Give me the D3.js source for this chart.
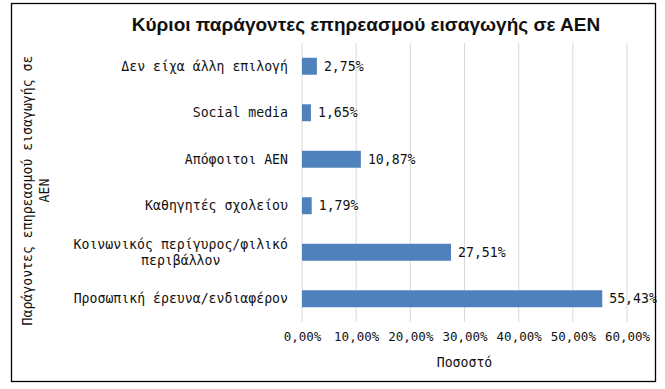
<!DOCTYPE html>
<html>
<head>
<meta charset="utf-8">
<script src="https://cdn.jsdelivr.net/npm/d3@7"></script>
<style>
  body { margin: 0; background: #fff; }
  text { font-family: "DejaVu Sans Mono", monospace; fill: #111; }
</style>
</head>
<body>
<svg id="chart" width="665" height="389"></svg>
<script>
// chart data
var categories = [
  "Δεν είχα άλλη επιλογή",
  "Social media",
  "Απόφοιτοι ΑΕΝ",
  "Καθηγητές σχολείου",
  "Κοινωνικός περίγυρος/φιλικό\nπεριβάλλον",
  "Προσωπική έρευνα/ενδιαφέρον"
];
var values = [2.75, 1.65, 10.87, 1.79, 27.51, 55.43];
var xTicks = [0, 10, 20, 30, 40, 50, 60];

var title = "Κύριοι παράγοντες επηρεασμού εισαγωγής σε ΑΕΝ";
var xTitle = "Ποσοστό";
var yTitle = ["Παράγοντες επηρεασμού εισαγωγής σε", "ΑΕΝ"];

var svg = d3.select("#chart");
var margin = { top: 43, left: 302, right: 38, bottom: 67 };
var width = 665 - margin.left - margin.right;
var height = 389 - margin.top - margin.bottom;
var fs = 13.2;

function pct(v) {
  return v.toFixed(2).replace(".", ",") + "%";
}

// outer frame
svg.append("rect")
  .attr("x", 11.5).attr("y", 3.5)
  .attr("width", 644).attr("height", 378)
  .attr("fill", "none")
  .attr("stroke", "#000")
  .attr("stroke-width", 1.3);

var g = svg.append("g")
  .attr("transform", "translate(" + margin.left + "," + margin.top + ")");

var x = d3.scaleLinear().domain([0, 60]).range([0, width]);
var y = d3.scaleBand().domain(categories).range([0, height]).paddingInner(0.635).paddingOuter(0.3175);

// gridlines
g.selectAll(".grid")
  .data(xTicks)
  .enter().append("line")
    .attr("class", "grid")
    .attr("x1", function(d) { return x(d); })
    .attr("x2", function(d) { return x(d); })
    .attr("y1", 0)
    .attr("y2", height)
    .attr("stroke", "#d9d9d9")
    .attr("stroke-width", 1);

// x axis tick labels
var xAxis = d3.axisBottom(x).tickValues(xTicks).tickSize(0).tickPadding(10).tickFormat(pct);
var xg = g.append("g")
  .attr("transform", "translate(0," + height + ")")
  .call(xAxis);
xg.select(".domain").remove();
xg.selectAll("text")
  .style("font-family", "DejaVu Sans Mono, monospace")
  .style("font-size", "12.5px")
  .attr("fill", "#111");

// bars
g.selectAll(".bar")
  .data(values)
  .enter().append("rect")
    .attr("class", "bar")
    .attr("x", x(0))
    .attr("y", function(d, i) { return y(categories[i]); })
    .attr("width", function(d) { return x(d) - x(0); })
    .attr("height", y.bandwidth())
    .attr("fill", "#4f81bd");

// data labels
g.selectAll(".lbl")
  .data(values)
  .enter().append("text")
    .attr("class", "lbl")
    .attr("x", function(d) { return x(d) + 7; })
    .attr("y", function(d, i) { return y(categories[i]) + y.bandwidth() / 2; })
    .attr("dy", "0.35em")
    .style("font-size", fs + "px")
    .text(pct);

// category labels (multi-line ones stacked and centred on each other)
g.selectAll(".cat")
  .data(categories)
  .enter().append("text")
    .attr("class", "cat")
    .attr("y", function(d) { return y(d) + y.bandwidth() / 2; })
    .style("font-size", fs + "px")
    .each(function(d) {
      var lines = d.split("\n");
      var t = d3.select(this);
      if (lines.length === 1) {
        t.attr("x", -14).attr("text-anchor", "end").attr("dy", "0.35em").text(d);
        return;
      }
      // two lines: centre second line under the first
      var lineW = lines[0].length * fs * 0.602;
      lines.forEach(function(l, k) {
        t.append("tspan")
          .attr("x", -14 - lineW / 2)
          .attr("text-anchor", "middle")
          .attr("dy", k === 0 ? "-0.25em" : "1.2em")
          .text(l);
      });
    });

// title
svg.append("text")
  .attr("x", 366).attr("y", 31)
  .attr("text-anchor", "middle")
  .style("font-family", "Liberation Sans Narrow, Liberation Sans, Arial, sans-serif")
  .style("font-size", "19px")
  .style("font-weight", "bold")
  .attr("fill", "#000")
  .text(title);

// axis titles
svg.append("text")
  .attr("x", margin.left + x(30)).attr("y", 367)
  .attr("text-anchor", "middle")
  .style("font-size", fs + "px")
  .text(xTitle);

var yt = svg.append("text")
  .attr("transform", "translate(32," + (margin.top + height / 2 + 8) + ") rotate(-90)")
  .attr("text-anchor", "middle")
  .style("font-size", fs + "px");
yTitle.forEach(function(l, k) {
  yt.append("tspan").attr("x", 0).attr("dy", k === 0 ? 0 : "1.25em").text(l);
});
</script>
</body>
</html>
